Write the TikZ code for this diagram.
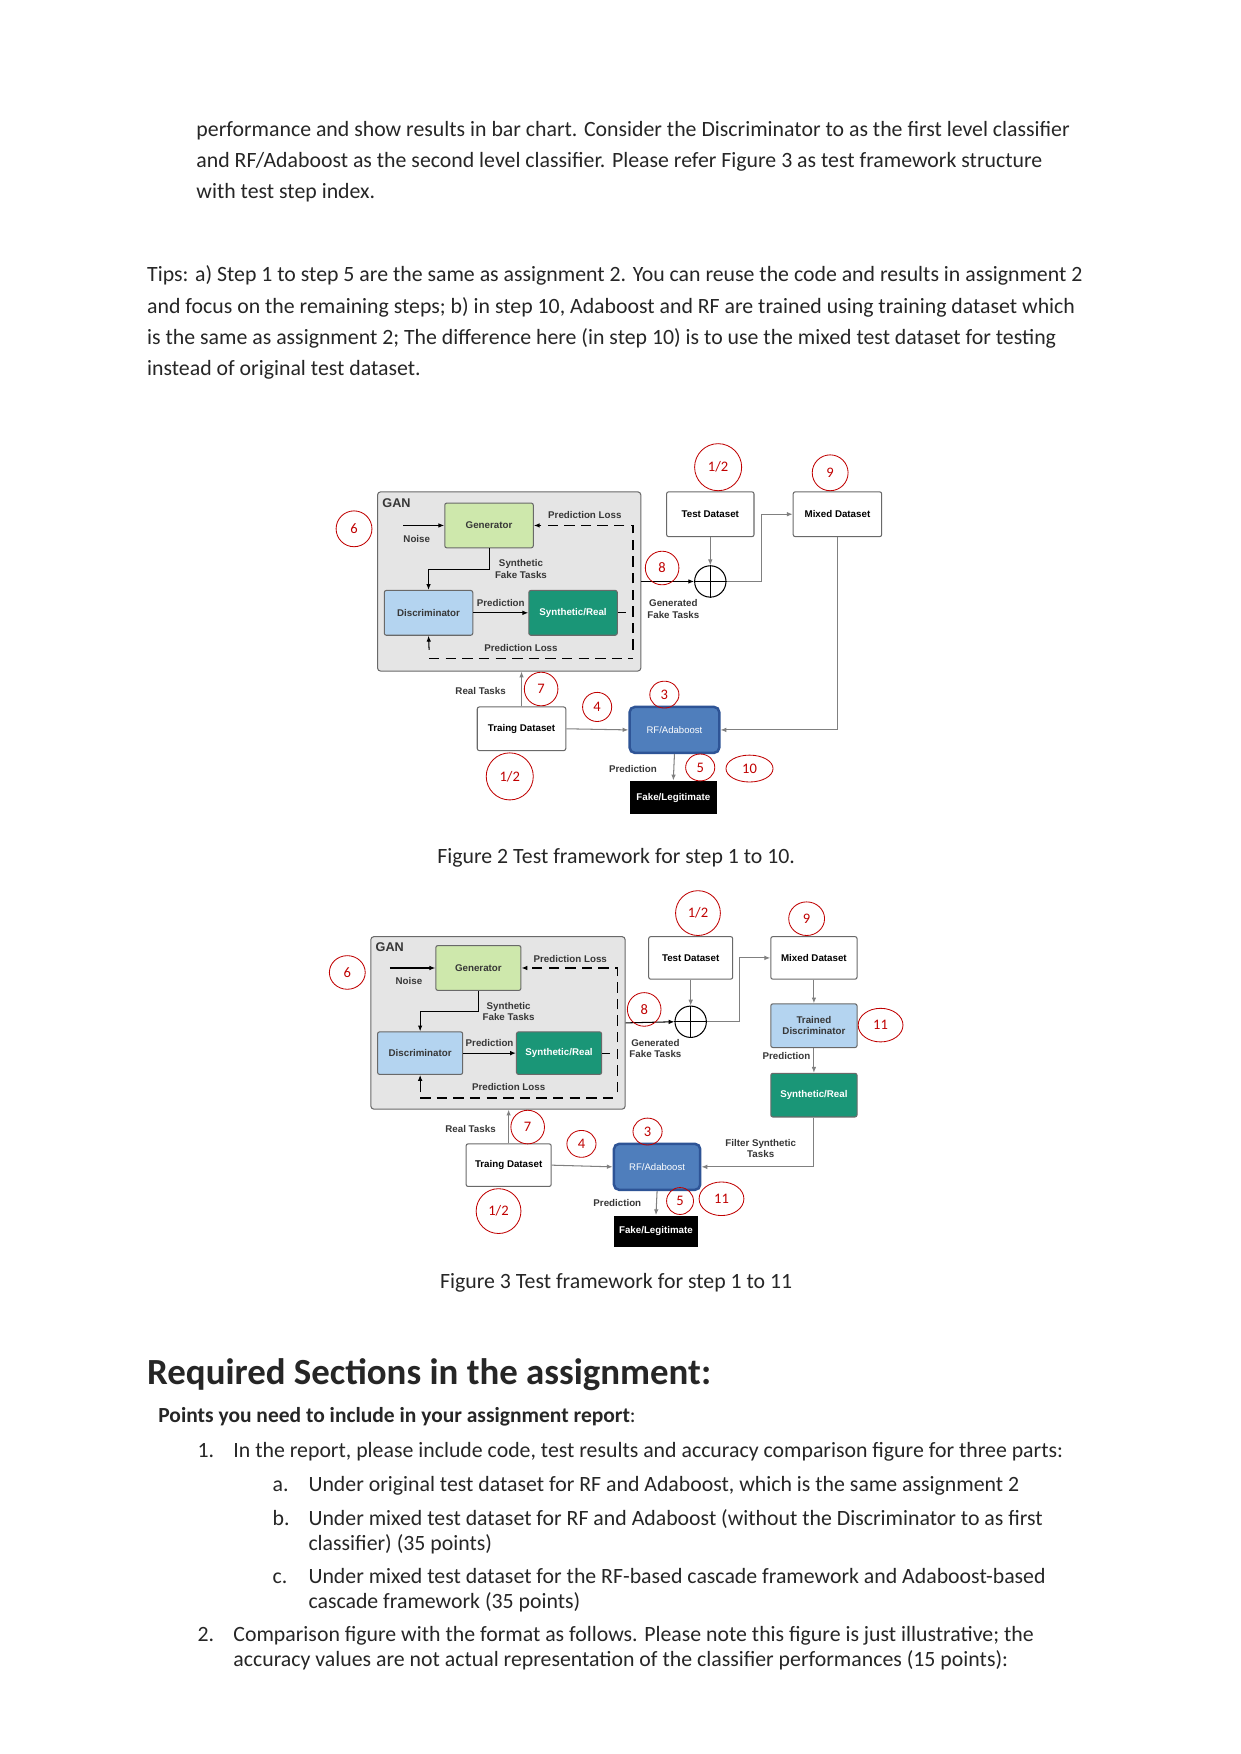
\documentclass[tikz,border=0pt]{standalone}
\usepackage{fontspec}
\setmainfont{Carlito}
\newfontfamily\diagfont{Liberation Sans}
\usetikzlibrary{shapes.geometric}
\usetikzlibrary{arrows.meta}

\definecolor{boxgray}{RGB}{105,105,105}
\definecolor{ganfill}{RGB}{229,229,229}
\definecolor{genfill}{RGB}{206,232,172}
\definecolor{discfill}{RGB}{180,212,240}
\definecolor{synfill}{RGB}{26,150,119}
\definecolor{rffill}{RGB}{79,126,188}
\definecolor{rfline}{RGB}{46,84,150}
\definecolor{stepred}{RGB}{192,0,0}
\definecolor{arrgray}{RGB}{128,128,128}
\definecolor{txtgray}{RGB}{55,55,55}
\definecolor{bodyblack}{RGB}{38,38,38}

\newcommand\txtfont{\fontsize{10.5}{12}\selectfont}
\newcommand\headtxt{\bfseries\fontsize{17.75}{20}\selectfont}
\newcommand\diagbold{\diagfont\bfseries\fontsize{4.7}{5.5}\selectfont}
\newcommand\diagplain{\diagfont\fontsize{4.6}{5.5}\selectfont}
\newcommand\stepnum{\fontsize{7}{8}\selectfont}

\tikzset{wh/.style 2 args={minimum width=#1*0.5394pt, minimum height=#2*0.5394pt}}

\begin{document}
\begin{tikzpicture}[x=0.5394pt, y=-0.5394pt, >={Latex[length=2.8pt,width=2.2pt]}]
        \tikzstyle{every node}=[inner sep=0pt]
        \tikzstyle{body}=[anchor=base west, font=\txtfont, text=bodyblack]
        \tikzstyle{box}=[draw=boxgray, line width=0.5pt, rounded corners=1pt, font=\diagbold, align=center]
        \tikzstyle{plainbox}=[box, fill=white, text=black]
        \tikzstyle{ganbox}=[box, fill=ganfill, rounded corners=1.5pt]
        \tikzstyle{genbox}=[box, fill=genfill, text=txtgray]
        \tikzstyle{discbox}=[box, fill=discfill, text=txtgray]
        \tikzstyle{synbox}=[box, fill=synfill, text=white]
        \tikzstyle{rfbox}=[draw=rfline, line width=1.2pt, rounded corners=2.5pt, fill=rffill, text=white, font=\diagplain]
        \tikzstyle{fakebox}=[fill=black, text=white, font=\diagbold]
        \tikzstyle{gantitle}=[anchor=west, font=\diagfont\bfseries\fontsize{6.1}{7}\selectfont, text=txtgray]
        \tikzstyle{lbl}=[font=\diagbold, text=txtgray, align=center]
        \tikzstyle{stepmark}=[ellipse, draw=stepred, line width=0.4pt, text=stepred, font=\stepnum]
        \tikzstyle{plusnode}=[circle, draw, line width=0.5pt, minimum size=15.1pt]
        \tikzstyle{blackarrow}=[->, line width=0.5pt, black]
        \tikzstyle{grayarrow}=[->, line width=0.5pt, arrgray]
        \tikzstyle{loss}=[line width=0.6pt, dash pattern=on 5pt off 3pt]

        \path[use as bounding box, fill=white] (0,0) rectangle (1107.7,1565.6);

        % text above the figures
        \node [body] (p1) at (175,121.5) {performance and show results in bar chart. Consider the Discriminator to as the first level classifier};
        \node [body] (p2) at (175,149.5) {and RF/Adaboost as the second level classifier. Please refer Figure 3 as test framework structure};
        \node [body] (p3) at (175,177.5) {with test step index.};
        \node [body] (t1) at (131,251.5) {Tips: a) Step 1 to step 5 are the same as assignment 2. You can reuse the code and results in assignment 2};
        \node [body] (t2) at (131,279.5) {and focus on the remaining steps; b) in step 10, Adaboost and RF are trained using training dataset which};
        \node [body] (t3) at (131,307.5) {is the same as assignment 2; The difference here (in step 10) is to use the mixed test dataset for testing};
        \node [body] (t4) at (131,335.5) {instead of original test dataset.};

        % Figure 2
        \node [ganbox, wh={235}{160}] (gan) at (454.5,519) {};
        \node [gantitle] (gant) at (341,449) {GAN};
        \node [genbox, wh={79}{40}] (gen) at (436.5,469) {Generator};
        \node [discbox, wh={79}{40}] (disc) at (382.5,547) {Discriminator};
        \node [synbox, wh={79}{40}] (syn) at (511.5,547) {Synthetic/Real};
        \node [plainbox, wh={78}{40}] (test) at (634,459) {Test Dataset};
        \node [plainbox, wh={79}{40}] (mixed) at (747.5,459) {Mixed Dataset};
        \node [plainbox, wh={79}{39}] (train) at (465.5,650.5) {Traing Dataset};
        \node [rfbox, wh={80}{41}] (rf) at (602,651.5) {RF/Adaboost};
        \node [fakebox, wh={78}{30}] (fake) at (601,712) {Fake/Legitimate};
        \node [plusnode] (plus) at (634,519) {};
        \coordinate (noise) at (360,469);
        \coordinate (lossT) at (565,469);
        \coordinate (lossB) at (565,580);
        \coordinate (lossL) at (383,588);
        \coordinate (lossR) at (565,588);
        \coordinate (lossU) at (383,580);

        \node [lbl] (noisel) at (372,481) {Noise};
        \node [lbl] (loss1) at (522,460) {Prediction Loss};
        \node [lbl] (fakel) at (465,508) {Synthetic\\Fake Tasks};
        \node [lbl] (pred1) at (447,538) {Prediction};
        \node [lbl] (loss2) at (465,578) {Prediction Loss};
        \node [lbl] (genl) at (601,543.5) {Generated\\Fake Tasks};
        \node [lbl] (reall) at (429,617) {Real Tasks};
        \node [lbl] (pred2) at (565,686) {Prediction};

        \draw[blackarrow] (noise) -- (gen.west);
        \draw[loss, ->] (lossB) -- (lossT) -- (gen.east);
        \draw[line width=0.5pt] (syn.east) -- ++(7,0);
        \draw[loss] (lossL) -- (lossR);
        \draw[blackarrow] (lossU) -- (disc.south);
        \draw[blackarrow] (gen.south) -- ++(0,19) -| (disc.north);
        \draw[blackarrow] (disc.east) -- (syn.west);
        \draw[blackarrow] (gan.east) -- (plus.west);
        \draw[line width=0.5pt] (plus.north) -- (plus.south) (plus.west) -- (plus.east);
        \draw[grayarrow] (test.south) -- (plus.north);
        \draw[grayarrow] (plus.east) -- ++(31,0) |- (mixed.west);
        \draw[grayarrow] (mixed.south) |- (rf.east);
        \draw[grayarrow] (train.north) -- (gan.south -| train.north);
        \draw[grayarrow] (train.east) -- (rf.west);
        \draw[grayarrow] (rf.south) -- (fake.north);

        \node [stepmark, wh={42}{42}] (s12a) at (641,417) {1/2};
        \node [stepmark, wh={32}{32}] (s9) at (741,422) {9};
        \node [stepmark, wh={32}{32}] (s6) at (316,472) {6};
        \node [stepmark, wh={30}{30}] (s8) at (591,507) {8};
        \node [stepmark, wh={30}{30}] (s7) at (483,615) {7};
        \node [stepmark, wh={26}{26}] (s4) at (533,631) {4};
        \node [stepmark, wh={26}{24}] (s3) at (593,620) {3};
        \node [stepmark, wh={26}{24}] (s5) at (625,685) {5};
        \node [stepmark, wh={42}{24}] (s10) at (669,686) {10};
        \node [stepmark, wh={42}{42}] (s12b) at (455,693) {1/2};

        \node [anchor=base, font=\txtfont, text=bodyblack] (cap2) at (550,770.5) {Figure 2 Test framework for step 1 to 10.};

        % Figure 3
        \node [ganbox, wh={227}{154}] (ganB) at (444.5,913) {};
        \node [gantitle] (gantB) at (335,845) {GAN};
        \node [genbox, wh={76}{40}] (genB) at (427,864) {Generator};
        \node [discbox, wh={76}{38}] (discB) at (375,940) {Discriminator};
        \node [synbox, wh={76}{38}] (synB) at (499,940) {Synthetic/Real};
        \node [plainbox, wh={75}{38}] (testB) at (616.5,855) {Test Dataset};
        \node [plainbox, wh={77}{38}] (mixedB) at (726.5,855) {Mixed Dataset};
        \node [discbox, wh={77}{39}] (tdisc) at (726.5,915.5) {Trained\\Discriminator};
        \node [synbox, wh={77}{39}] (synR) at (726.5,977.5) {Synthetic/Real};
        \node [plainbox, wh={76}{38}] (trainB) at (454,1040) {Traing Dataset};
        \node [rfbox, wh={77}{41}] (rfB) at (586.5,1041.5) {RF/Adaboost};
        \node [fakebox, wh={75}{28}] (fakeB) at (585.5,1099) {Fake/Legitimate};
        \node [plusnode] (plusB) at (616.5,912) {};
        \coordinate (noiseB) at (348,864);
        \coordinate (lossTB) at (551,864);
        \coordinate (lossBB) at (551,975);
        \coordinate (lossLB) at (375,980);
        \coordinate (lossRB) at (551,980);
        \coordinate (lossUB) at (375,975);

        \node [lbl] (noiselB) at (365,876) {Noise};
        \node [lbl] (loss1B) at (509,856) {Prediction Loss};
        \node [lbl] (fakelB) at (454,903) {Synthetic\\Fake Tasks};
        \node [lbl] (pred1B) at (437,931) {Prediction};
        \node [lbl] (loss2B) at (454,970) {Prediction Loss};
        \node [lbl] (genlB) at (585,936) {Generated\\Fake Tasks};
        \node [lbl] (reallB) at (420,1008) {Real Tasks};
        \node [lbl] (pred2B) at (551,1074) {Prediction};
        \node [lbl] (pred3B) at (702,943) {Prediction};
        \node [lbl] (filterl) at (679,1025) {Filter Synthetic\\Tasks};

        \draw[blackarrow] (noiseB) -- (genB.west);
        \draw[loss, ->] (lossBB) -- (lossTB) -- (genB.east);
        \draw[line width=0.5pt] (synB.east) -- ++(7,0);
        \draw[loss] (lossLB) -- (lossRB);
        \draw[blackarrow] (lossUB) -- (discB.south);
        \draw[blackarrow] (genB.south) -- ++(0,18) -| (discB.north);
        \draw[blackarrow] (discB.east) -- (synB.west);
        \draw[blackarrow] (ganB.east) -- (plusB.west);
        \draw[line width=0.5pt] (plusB.north) -- (plusB.south) (plusB.west) -- (plusB.east);
        \draw[grayarrow] (testB.south) -- (plusB.north);
        \draw[grayarrow] (plusB.east) -- ++(29,0) |- (mixedB.west);
        \draw[grayarrow] (mixedB.south) -- (tdisc.north);
        \draw[grayarrow] (tdisc.south) -- (synR.north);
        \draw[grayarrow] (synR.south) |- (rfB.east);
        \draw[grayarrow] (trainB.north) -- (ganB.south -| trainB.north);
        \draw[grayarrow] (trainB.east) -- (rfB.west);
        \draw[grayarrow] (rfB.south) -- (fakeB.north);

        \node [stepmark, wh={40}{40}] (s12c) at (623,815) {1/2};
        \node [stepmark, wh={32}{30}] (s9B) at (720,820) {9};
        \node [stepmark, wh={32}{30}] (s6B) at (310,868) {6};
        \node [stepmark, wh={30}{30}] (s8B) at (575,901) {8};
        \node [stepmark, wh={30}{30}] (s7B) at (471,1006) {7};
        \node [stepmark, wh={26}{24}] (s4B) at (519,1021) {4};
        \node [stepmark, wh={26}{24}] (s3B) at (578,1010) {3};
        \node [stepmark, wh={24}{24}] (s5B) at (607,1072) {5};
        \node [stepmark, wh={40}{30}] (s11a) at (644,1070) {11};
        \node [stepmark, wh={40}{30}] (s11b) at (786,915) {11};
        \node [stepmark, wh={40}{40}] (s12d) at (445,1081) {1/2};

        \node [anchor=base, font=\txtfont, text=bodyblack] (cap3) at (550,1150.5) {Figure 3 Test framework for step 1 to 11};

        % required sections
        \node [body, font=\headtxt] (head) at (131,1236) {Required Sections in the assignment:};
        \node [body, font=\fontsize{10.35}{12}\selectfont] (pts) at (141,1269.5) {\textbf{Points you need to include in your assignment report}:};
        \node [body] (n1) at (176,1300.5) {1.};
        \node [body] (i1) at (208,1300.5) {In the report, please include code, test results and accuracy comparison figure for three parts:};
        \node [body] (na) at (243,1331.5) {a.};
        \node [body] (ia) at (275,1331.5) {Under original test dataset for RF and Adaboost, which is the same assignment 2};
        \node [body] (nb) at (243,1361.5) {b.};
        \node [body] (ib1) at (275,1361.5) {Under mixed test dataset for RF and Adaboost (without the Discriminator to as first};
        \node [body] (ib2) at (275,1383.5) {classifier) (35 points)};
        \node [body] (nc) at (243,1413.5) {c.};
        \node [body] (ic1) at (275,1413.5) {Under mixed test dataset for the RF-based cascade framework and Adaboost-based};
        \node [body] (ic2) at (275,1435.5) {cascade framework (35 points)};
        \node [body] (n2) at (176,1465.5) {2.};
        \node [body] (i21) at (208,1465.5) {Comparison figure with the format as follows. Please note this figure is just illustrative; the};
        \node [body] (i22) at (208,1487.5) {accuracy values are not actual representation of the classifier performances (15 points):};
\end{tikzpicture}
\end{document}
